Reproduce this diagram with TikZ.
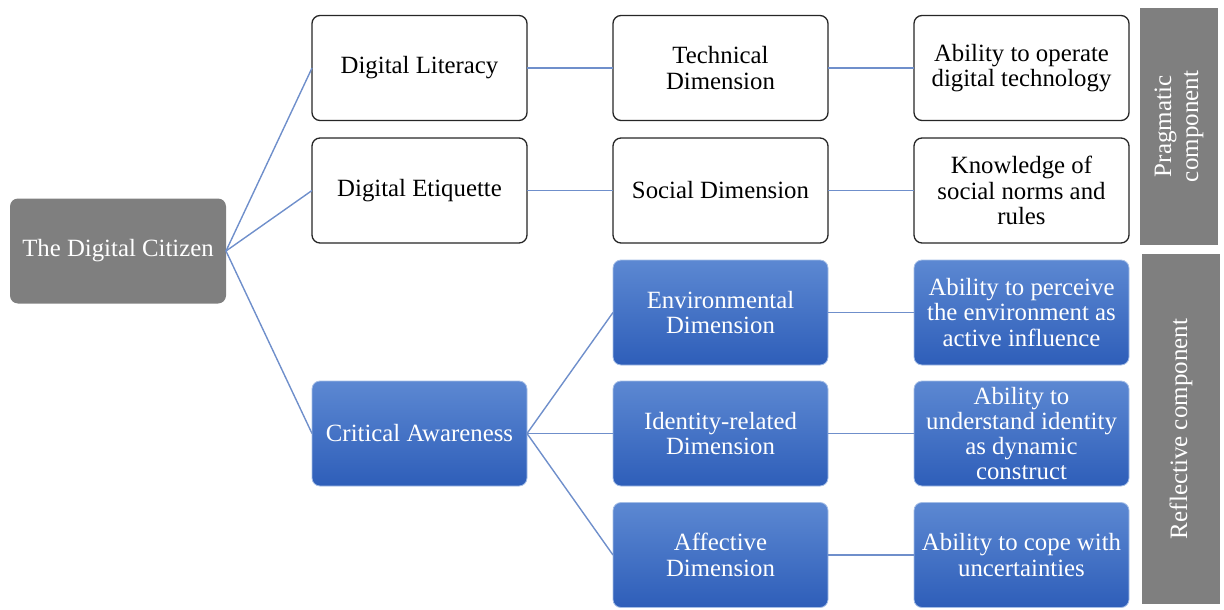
\documentclass[tikz,border=0pt]{standalone}
\usepackage{fontspec}
\setmainfont{Liberation Serif}
\begin{document}
\definecolor{barGray}{HTML}{7F7F7F}
\definecolor{blueTop}{HTML}{5C88D2}
\definecolor{blueBot}{HTML}{2E5EB9}
\definecolor{linkBlue}{HTML}{6F8FCB}
\begin{tikzpicture}[x=1pt,y=-1pt,
  every node/.style={inner sep=0pt, outer sep=0pt},
  box/.style={minimum width=215pt, minimum height=105pt, rounded corners=8pt,
    align=center, font=\fontsize{24.8}{25.3}\selectfont},
  plainbox/.style={box, draw=black!85, line width=1.3pt, fill=white, text=black},
  bluebox/.style={box, draw=blueTop!55!white, line width=0.8pt,
    top color=blueTop, bottom color=blueBot, text=white},
  rootbox/.style={box, minimum width=216pt, fill=barGray, text=white},
  sidebar/.style={fill=barGray, text=white, align=center,
    font=\fontsize{25}{27}\selectfont},
  link/.style={draw=linkBlue, line width=1.4pt}]
\useasboundingbox (0,0) rectangle (1224,610);

% root
\node[rootbox] (root) at (118,251) {The Digital Citizen};

% second column
\node[plainbox] (lit) at (419.5,68) {Digital Literacy};
\node[plainbox] (eti) at (419.5,190.5) {Digital Etiquette};
\node[bluebox]  (crit) at (419.5,433.5) {Critical Awareness};

% third column
\node[plainbox] (tech) at (720.5,68) {Technical\\Dimension};
\node[plainbox] (soc)  at (720.5,190.5) {Social Dimension};
\node[bluebox]  (env)  at (720.5,312.5) {Environmental\\Dimension};
\node[bluebox]  (iden) at (720.5,433.5) {Identity-related\\Dimension};
\node[bluebox]  (aff)  at (720.5,555) {Affective\\Dimension};

% fourth column
\node[plainbox] (op)   at (1021.5,68) {Ability to operate\\digital technology};
\node[plainbox] (norm) at (1021.5,190.5) {Knowledge of\\social norms and\\rules};
\node[bluebox]  (perc) at (1021.5,312.5) {Ability to perceive\\the environment as\\active influence};
\node[bluebox]  (und)  at (1021.5,433.5) {Ability to\\understand identity\\as dynamic\\construct};
\node[bluebox]  (cope) at (1021.5,555) {Ability to cope with\\uncertainties};

% component bars
\node[sidebar, minimum width=78pt, minimum height=237pt] (prag) at (1179,126.5) {};
\node[sidebar, rotate=90] at (prag.center) {Pragmatic\\component};
\node[sidebar, minimum width=78pt, minimum height=350pt] (refl) at (1181,429) {};
\node[sidebar, rotate=90] at (refl.center) {Reflective component};

% connectors
\draw[link] (root.east) -- (lit.west);
\draw[link] (root.east) -- (eti.west);
\draw[link] (root.east) -- (crit.west);
\draw[link] (lit.east) -- (tech.west);
\draw[link] (eti.east) -- (soc.west);
\draw[link] (crit.east) -- (env.west);
\draw[link] (crit.east) -- (iden.west);
\draw[link] (crit.east) -- (aff.west);
\draw[link] (tech.east) -- (op.west);
\draw[link] (soc.east) -- (norm.west);
\draw[link] (env.east) -- (perc.west);
\draw[link] (iden.east) -- (und.west);
\draw[link] (aff.east) -- (cope.west);
\end{tikzpicture}
\end{document}
